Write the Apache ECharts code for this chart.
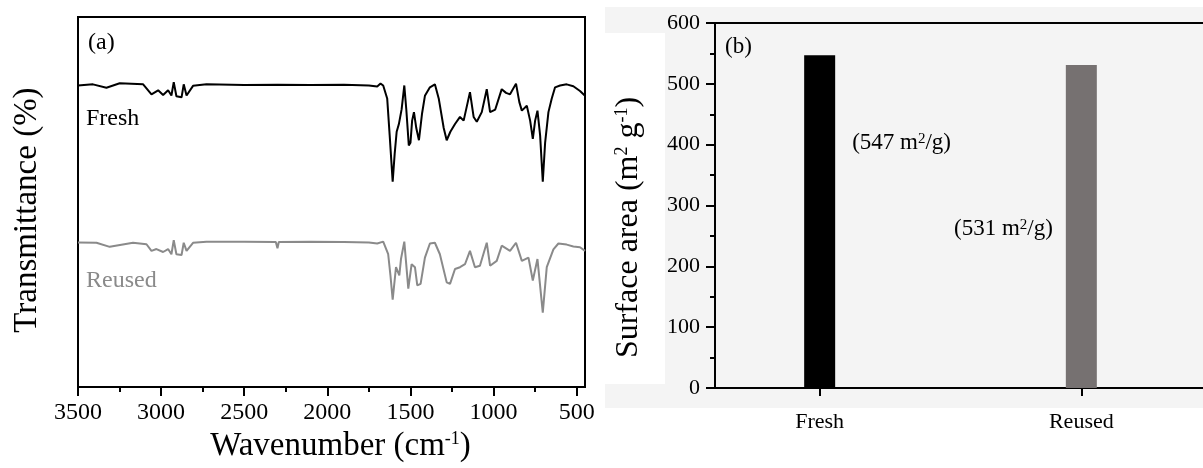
<!DOCTYPE html>
<html>
<head>
<meta charset="utf-8">
<script src="https://cdn.jsdelivr.net/npm/echarts@6/dist/echarts.min.js"></script>
<style>
  html, body { margin: 0; padding: 0; background: #fff; }
  #chart { width: 1203px; height: 468px; }
</style>
</head>
<body>
<div id="chart"></div>
<script>
// (a) FTIR spectra, [wavenumber cm-1, transmittance (arb.)]
const freshSpectrum = [
  [3500, 81.5], [3490, 81.6], [3410, 81.8], [3329, 80.9], [3249, 82.1], [3108, 81.8],
  [3058, 79.1], [3018, 80.2], [2988, 78.9], [2958, 80.2], [2938, 78.8], [2924, 82.4],
  [2908, 78.6], [2877, 78.3], [2864, 81.8], [2847, 78.8], [2808, 81.4], [2727, 81.8],
  [2500, 81.6], [2300, 81.7], [2100, 81.6], [1900, 81.7], [1750, 81.5], [1700, 81.2],
  [1680, 82.0], [1664, 81.5], [1640, 78], [1625, 68], [1607, 55.5], [1595, 63],
  [1583, 69], [1570, 71], [1553, 75.1], [1537, 81.5], [1525, 75], [1510, 65.3],
  [1500, 66], [1490, 72], [1479, 74.3], [1465, 70], [1449, 66.7], [1430, 74],
  [1413, 78.7], [1383, 81], [1353, 81.8], [1330, 78], [1300, 70], [1282, 66.7],
  [1260, 69], [1232, 71.1], [1202, 73], [1180, 72], [1142, 79.7], [1120, 73],
  [1101, 71.7], [1071, 74.3], [1041, 80.5], [1021, 74.3], [990, 75], [951, 80.5],
  [925, 79.5], [901, 79.1], [865, 82], [845, 77], [830, 74.7], [800, 76],
  [780, 72], [764, 67.1], [750, 72], [736, 74.7], [720, 68], [704, 55.5],
  [690, 66], [670, 74.3], [650, 78], [630, 81], [600, 81.5], [560, 81.8],
  [520, 81.3], [480, 80], [450, 78.7]
];
const reusedSpectrum = [
  [3500, 39.1], [3490, 39.0], [3389, 39.0], [3309, 37.9], [3169, 39.0], [3088, 38.6],
  [3058, 36.8], [3028, 37.3], [2988, 36.5], [2958, 37.3], [2938, 35.9], [2924, 39.7],
  [2908, 35.9], [2877, 35.7], [2864, 39.0], [2847, 36.8], [2808, 39.0], [2727, 39.3],
  [2500, 39.3], [2310, 39.2], [2300, 37.5], [2292, 39.2], [2100, 39.3], [1900, 39.2],
  [1750, 39.1], [1700, 38.8], [1664, 39.3], [1634, 35.9], [1620, 30], [1607, 23.6],
  [1587, 32.4], [1567, 30.2], [1557, 34.6], [1537, 39.3], [1513, 26.6], [1493, 33.2],
  [1473, 32.4], [1459, 27.5], [1439, 27.9], [1413, 35], [1383, 38.8], [1353, 39.0],
  [1323, 35.9], [1282, 28.3], [1262, 27.9], [1232, 31.9], [1202, 32.4], [1172, 33.2],
  [1142, 36.8], [1112, 32.4], [1082, 32.8], [1041, 39.0], [1021, 32.8], [981, 34.1],
  [951, 38.2], [901, 36.8], [865, 39.0], [830, 34.1], [790, 35.0], [764, 28.8],
  [736, 34.6], [704, 20.1], [680, 32.4], [640, 37.2], [610, 38.8], [560, 38.5],
  [520, 38.0], [480, 37.8], [450, 36.8]
];
const wavenumberTicks = [3500, 3000, 2500, 2000, 1500, 1000, 500];
const wavenumberMinorTicks = [3250, 2750, 2250, 1750, 1250, 750];

// (b) BET surface area
const samples = ['Fresh', 'Reused'];
const surfaceArea = [547, 531];

const serif = "'Liberation Serif', 'Times New Roman', serif";
const supStyle = { fontSize: 18, verticalAlign: 'top', fontFamily: serif, color: '#000' };
const barColors = ['#000000', '#767171'];
const barLabelLayout = [
  { position: [48, 88], align: 'left' },
  { position: [-13, 164], align: 'right' }
];

const chart = echarts.init(document.getElementById('chart'), null, { renderer: 'canvas' });

chart.setOption({
  backgroundColor: '#fff',
  animation: false,
  textStyle: { fontFamily: serif },
  graphic: [
    { type: 'rect', z: -10, silent: true, shape: { x: 665, y: 7, width: 540, height: 401 }, style: { fill: '#f4f4f4' } },
    { type: 'rect', z: -10, silent: true, shape: { x: 605, y: 7, width: 62, height: 26 }, style: { fill: '#f4f4f4' } },
    { type: 'rect', z: -10, silent: true, shape: { x: 605, y: 384, width: 62, height: 24 }, style: { fill: '#f4f4f4' } },
    { type: 'text', left: 88, top: 31, style: { text: '(a)', font: '24px ' + serif, fill: '#000' } },
    { type: 'text', left: 86, top: 107, style: { text: 'Fresh', font: '24px ' + serif, fill: '#000' } },
    { type: 'text', left: 86, top: 269, style: { text: 'Reused', font: '24px ' + serif, fill: '#8a8a8a' } },
    { type: 'text', left: 725, top: 35, style: { text: '(b)', font: '23px ' + serif, fill: '#000' } }
  ],
  grid: [
    { left: 78, top: 17, width: 507, height: 374, show: true, borderColor: '#000', borderWidth: 2 },
    { left: 715, top: 23, width: 488, height: 365, show: false }
  ],
  xAxis: [
    {
      gridIndex: 0, type: 'value', inverse: true, min: 450, max: 3500, position: 'bottom',
      name: 'Wavenumber (cm{sup|-1})', nameLocation: 'middle', nameGap: 34,
      nameTextStyle: { fontSize: 33, color: '#000', fontFamily: serif, padding: [0, 0, 0, 18], rich: { sup: supStyle } },
      axisLine: { show: true, onZero: false, lineStyle: { color: '#000', width: 2 } },
      axisTick: { show: true, length: 9, lineStyle: { color: '#000', width: 2 }, customValues: wavenumberTicks },
      axisLabel: { fontSize: 24, color: '#000', margin: 14, customValues: wavenumberTicks, formatter: v => String(v) },
      splitLine: { show: false }
    },
    {
      // minor ticks between the labelled ones
      gridIndex: 0, type: 'value', inverse: true, min: 450, max: 3500, position: 'bottom',
      axisLine: { show: false, onZero: false },
      axisTick: { show: true, length: 5, lineStyle: { color: '#000', width: 2 }, customValues: wavenumberMinorTicks },
      axisLabel: { show: false },
      splitLine: { show: false }
    },
    {
      gridIndex: 1, type: 'value', min: 0.6, max: 2.465, position: 'bottom',
      axisLine: { show: true, onZero: false, lineStyle: { color: '#000', width: 2 } },
      axisTick: { show: true, length: 8, lineStyle: { color: '#000', width: 2 }, customValues: [1, 2] },
      axisLabel: {
        fontSize: 22, color: '#000', margin: 23, customValues: [1, 2],
        formatter: v => samples[Math.round(v) - 1]
      },
      splitLine: { show: false }
    },
    {
      // top frame line of panel (b)
      gridIndex: 1, type: 'value', min: 0.6, max: 2.465, position: 'top',
      axisLine: { show: true, onZero: false, lineStyle: { color: '#000', width: 2 } },
      axisTick: { show: false },
      axisLabel: { show: false },
      splitLine: { show: false }
    }
  ],
  yAxis: [
    {
      gridIndex: 0, type: 'value', min: 0, max: 100,
      name: 'Transmittance (%)', nameLocation: 'middle', nameGap: 34,
      nameTextStyle: { fontSize: 33, color: '#000', fontFamily: serif, padding: [0, 16, 0, 0] },
      axisLine: { show: true, lineStyle: { color: '#000', width: 2 } },
      axisTick: { show: false },
      axisLabel: { show: false },
      splitLine: { show: false }
    },
    {
      gridIndex: 1, type: 'value', min: 0, max: 600, interval: 100,
      name: 'Surface area (m{sup|2} g{sup|-1})', nameLocation: 'middle', nameGap: 70,
      nameTextStyle: { fontSize: 32, color: '#000', fontFamily: serif, padding: [0, 44, 0, 0], rich: { sup: supStyle } },
      axisLine: { show: true, lineStyle: { color: '#000', width: 2 } },
      axisTick: { show: true, length: 9, lineStyle: { color: '#000', width: 2 } },
      minorTick: { show: true, splitNumber: 2, length: 5, lineStyle: { color: '#000', width: 2 } },
      axisLabel: { fontSize: 22, color: '#000', margin: 15 },
      splitLine: { show: false }
    }
  ],
  series: [
    {
      name: 'Fresh', type: 'line', xAxisIndex: 0, yAxisIndex: 0,
      data: freshSpectrum, symbol: 'none', smooth: false,
      lineStyle: { color: '#000', width: 2 }
    },
    {
      name: 'Reused', type: 'line', xAxisIndex: 0, yAxisIndex: 0,
      data: reusedSpectrum, symbol: 'none', smooth: false,
      lineStyle: { color: '#8a8a8a', width: 2 }
    },
    {
      name: 'Surface area', type: 'bar', xAxisIndex: 2, yAxisIndex: 1,
      barWidth: 31,
      data: surfaceArea.map((v, i) => ({
        value: [i + 1, v],
        itemStyle: { color: barColors[i] },
        label: {
          show: true,
          position: barLabelLayout[i].position,
          align: barLabelLayout[i].align,
          verticalAlign: 'middle',
          fontSize: 23,
          color: '#000',
          fontFamily: serif,
          formatter: p => '(' + p.value[1] + ' m{sup|2}/g)',
          rich: { sup: { fontSize: 15, verticalAlign: 'top', fontFamily: serif, color: '#000' } }
        }
      }))
    }
  ]
});

window.addEventListener('resize', () => chart.resize());
</script>
</body>
</html>
